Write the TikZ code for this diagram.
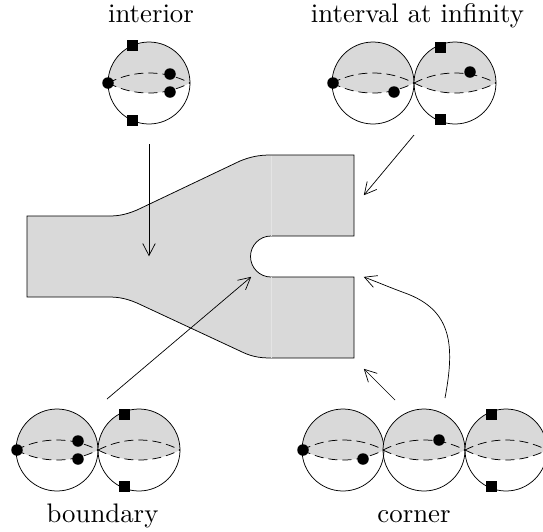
\documentclass[tikz,border=0pt]{standalone}
\usetikzlibrary{arrows.meta}
\definecolor{lg}{gray}{0.85}
\tikzset{x=1pt,y=-1pt,
 conn/.style={draw,line width=0.7pt,-{Straight Barb[length=12pt,width=12.5pt]},shorten >=-0.3pt},
 edge/.style={line width=0.75pt},
 pt/.style={circle,fill=black,inner sep=0pt,minimum size=11.5pt},
 sq/.style={rectangle,fill=black,inner sep=0pt,minimum size=11pt},
 lab/.style={inner sep=0pt,anchor=base,scale=2.68}}
\newcommand{\ball}[2]{%
 \fill[lg] (#1-41,#2) arc[start angle=180,end angle=360,radius=41] .. controls (#1+27,#2+7) and (#1+14,#2+10) .. (#1,#2+10) .. controls (#1-14,#2+10) and (#1-27,#2+7) .. (#1-41,#2) -- cycle;
 \draw[edge] (#1,#2) circle[radius=41];
 \draw[edge,dash pattern=on 9pt off 5pt] (#1-41,#2) .. controls (#1-27,#2+7) and (#1-14,#2+10) .. (#1,#2+10) .. controls (#1+14,#2+10) and (#1+27,#2+7) .. (#1+41,#2);
 \draw[edge,dash pattern=on 9pt off 5pt] (#1-41,#2) .. controls (#1-27,#2-7) and (#1-14,#2-10) .. (#1,#2-10) .. controls (#1+14,#2-10) and (#1+27,#2-7) .. (#1+41,#2);}
\newcommand{\mainpath}{(271,155) -- (354,155) -- (354,236) -- (271,236) arc[start angle=270,end angle=90,radius=20.5] -- (354,277) -- (354,358) -- (271,358) .. controls (258,358) and (250,356) .. (240,351) -- (137,303) .. controls (124,297.5) and (116,297) .. (108,297) -- (27,297) -- (27,216) -- (108,216) .. controls (116,216) and (124,215.5) .. (137,210) -- (240,161) .. controls (250,157) and (258,155) .. (271,155) -- cycle}
\begin{document}
\begin{tikzpicture}
\useasboundingbox (0,0) rectangle (543,531);
\clip (0,0) rectangle (543,531);
% main shape
\fill[lg] \mainpath;
\draw[edge] \mainpath;
\draw[white!30!lg,line width=0.4pt] (271,155.5) -- (271,236) (271,277) -- (271,357.5);
% balls
\ball{149}{83}
\ball{373}{83}\ball{455}{83}
\ball{57}{450}\ball{139}{450}
\ball{343}{450}\ball{424}{450}\ball{506}{450}
\node[pt] (a1) at (108,83) {};
\node[pt] (a2) at (170,74) {};
\node[pt] (a3) at (170,92) {};
\node[sq] (a4) at (132,45) {};
\node[sq] (a5) at (132,120) {};
\node[pt] (b1) at (333,83) {};
\node[pt] (b2) at (394,92) {};
\node[pt] (b3) at (470,72) {};
\node[sq] (b4) at (440,47) {};
\node[sq] (b5) at (440,119) {};
\node[pt] (c1) at (17,450) {};
\node[pt] (c2) at (78,441) {};
\node[pt] (c3) at (78,459) {};
\node[sq] (c4) at (124,414) {};
\node[sq] (c5) at (124,486) {};
\node[pt] (d1) at (303,450) {};
\node[pt] (d2) at (363,459) {};
\node[pt] (d3) at (439,440) {};
\node[sq] (d4) at (491,414) {};
\node[sq] (d5) at (491,486) {};
\node[lab] (t1) at (151,22) {interior};
\node[lab] (t2) at (417.5,22) {interval at infinity};
\node[lab] (t3) at (102.5,522) {boundary};
\node[lab] (t4) at (414,522) {corner};
\coordinate (e1s) at (149,144); \coordinate (e1e) at (149,256);
\coordinate (e2s) at (414,135); \coordinate (e2e) at (364,195);
\coordinate (e3s) at (107,399); \coordinate (e3e) at (251,277);
\coordinate (e4s) at (395,400); \coordinate (e4e) at (364,369);
\coordinate (e5s) at (445,398); \coordinate (e5e) at (364,277);
\draw[conn] (e1s) -- (e1e);
\draw[conn] (e2s) -- (e2e);
\draw[conn] (e3s) -- (e3e);
\draw[conn] (e4s) -- (e4e);
\draw[conn] (e5s) .. controls (455,345) and (452,310) .. (405,293) .. controls (390,287.5) and (377,282) .. (e5e);
\end{tikzpicture}
\end{document}
